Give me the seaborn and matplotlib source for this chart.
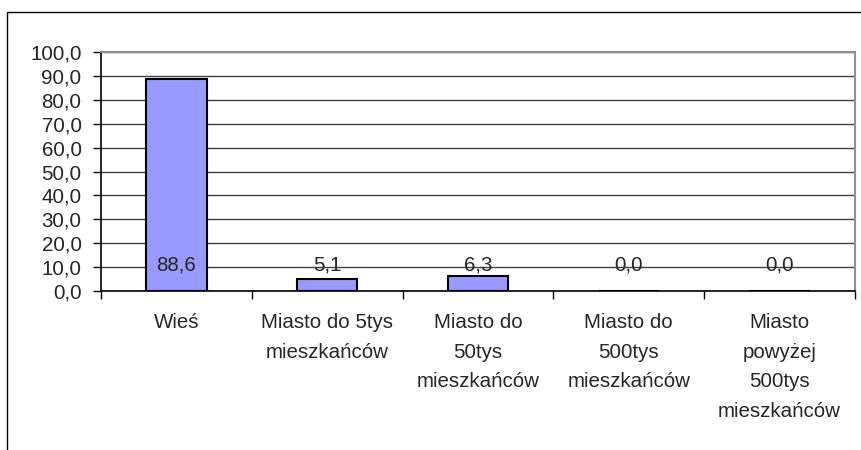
import matplotlib
matplotlib.use('Agg')
import matplotlib.pyplot as plt
import seaborn as sns
import pandas as pd
from matplotlib.patches import Rectangle

categories = ['Wieś', 'Miasto do 5tys\nmieszkańców', 'Miasto do\n50tys\nmieszkańców',
              'Miasto do\n500tys\nmieszkańców', 'Miasto\npowyżej\n500tys\nmieszkańców']
values = [88.6, 5.1, 6.3, 0.0, 0.0]
yticks = [0, 10, 20, 30, 40, 50, 60, 70, 80, 90, 100]

sns.set_style('white')
plt.rcParams['font.family'] = ['Liberation Sans', 'DejaVu Sans']

df = pd.DataFrame({'cat': categories, 'val': values})

fig = plt.figure(figsize=(8.61, 4.5), dpi=100)
ax = fig.add_axes([101 / 861, 1 - 291 / 450, (855 - 101) / 861, (291 - 52) / 450])

sns.barplot(data=df, x='cat', y='val', ax=ax, color='#9999FF', saturation=1,
            width=0.4, edgecolor='black', linewidth=1.5, zorder=3)

fs = 14.8
ax.set_ylim(0, 100)
ax.set_xlim(-0.5, len(categories) - 0.5)
ax.set_yticks(yticks)
ax.set_yticklabels([f'{t:.1f}'.replace('.', ',') for t in yticks], fontsize=fs)
ax.yaxis.grid(True, color='#404040', linewidth=1, zorder=0)
ax.set_axisbelow(True)

# category boundaries as ticks
ax.set_xticks([i + 0.5 for i in range(-1, len(categories))], minor=True)
ax.tick_params(axis='x', which='minor', length=6, width=1, color='black', direction='out', bottom=True)
ax.tick_params(axis='x', which='major', length=0, pad=16, labelsize=fs)
ax.tick_params(axis='y', length=6, width=1, color='black', direction='out', left=True, pad=8)
for lab in ax.get_xticklabels():
    lab.set_linespacing(1.7)

ax.set_xlabel('')
ax.set_ylabel('')

for s in ['left', 'bottom']:
    ax.spines[s].set_color('black')
    ax.spines[s].set_linewidth(1.2)
for s in ['top', 'right']:
    ax.spines[s].set_color('#909090')
    ax.spines[s].set_linewidth(1.5)

# value labels
for i, v in enumerate(values):
    ax.text(i, 11, f'{v:.1f}'.replace('.', ','), ha='center', va='center', fontsize=fs, zorder=4)

# outer chart frame
fig.patches.append(Rectangle((7 / 861, -0.5), 2, 1 - 12 / 450 + 0.5, transform=fig.transFigure,
                             fill=False, edgecolor='black', linewidth=1))

fig.savefig('out.png', dpi=100)
